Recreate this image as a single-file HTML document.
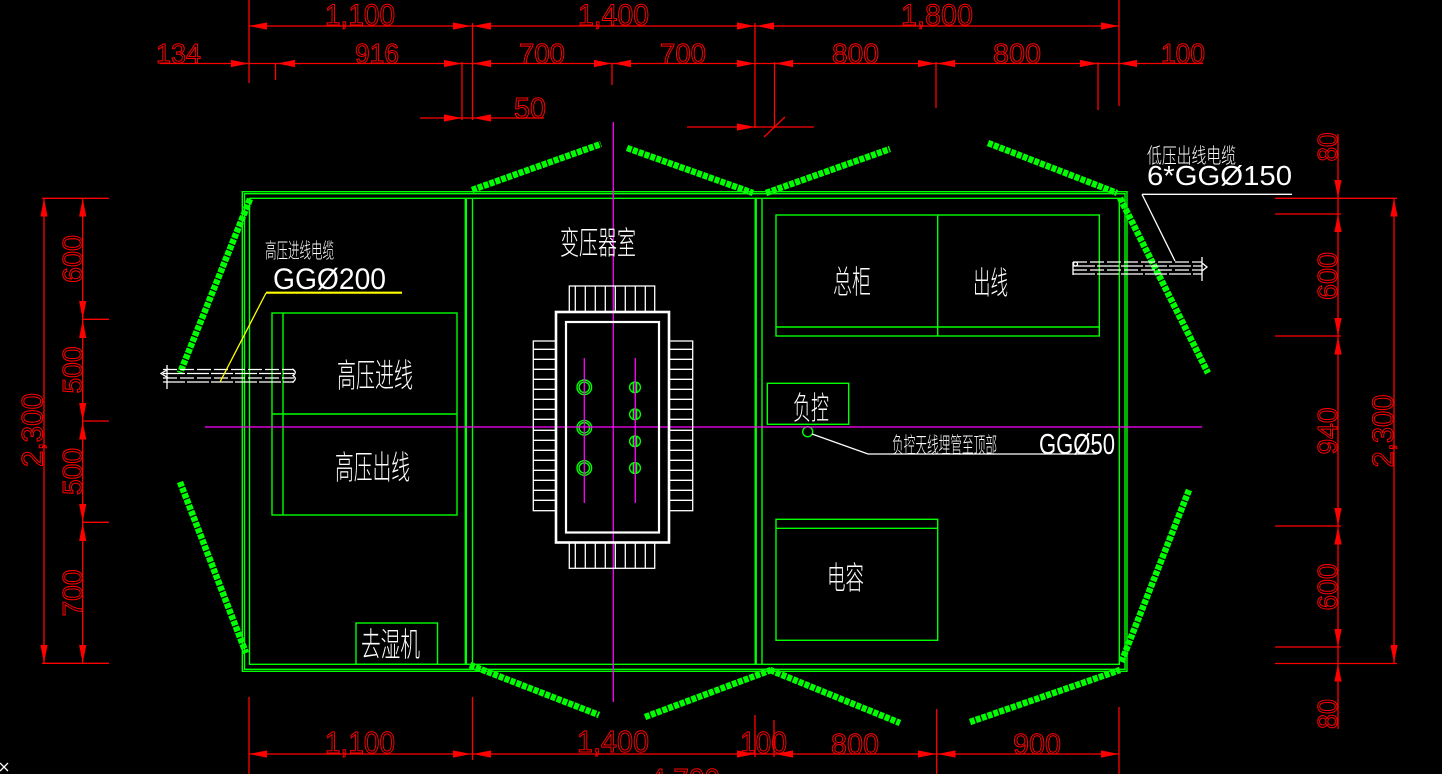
<!DOCTYPE html>
<html>
<head>
<meta charset="utf-8">
<style>
html,body{margin:0;padding:0;background:#000;overflow:hidden;width:1442px;height:774px;}
svg{display:block;}
.r{font-family:"Liberation Sans",sans-serif;fill:none;stroke:#ff0000;stroke-width:1;}
.w{font-family:"Liberation Sans","Noto Sans CJK SC",sans-serif;fill:#ffffff;stroke:none;font-weight:200;}
</style>
</head>
<body>
<svg width="1442" height="774" viewBox="0 0 1442 774" xmlns="http://www.w3.org/2000/svg">
<defs>
<polygon id="aR" points="0,0 -18,-3.6 -18,3.6"/>
<polygon id="aL" points="0,0 18,-3.6 18,3.6"/>
<polygon id="aU" points="0,0 -3.6,18 3.6,18"/>
<polygon id="aD" points="0,0 -3.6,-18 3.6,-18"/>
</defs>
<rect x="0" y="0" width="1442" height="774" fill="#000"/>

<!-- ============ RED DIMENSIONS ============ -->
<g stroke="#ff0000" stroke-width="1.3" fill="none">
<path d="M249,26 H1119 M160,63.5 H1203 M420,118 H544 M687,127 H814 M764,137 L785,117"/>
<path d="M249,0 V83 M275.5,63 V80 M462,62 V120 M472.5,23 V120 M612,63 V85 M755,23 V128 M774.5,62 V128 M936,62 V108 M1098,62 V110 M1119,0 V106"/>
<path d="M44,198 V663 M82.7,198 V663 M42,198.3 H109 M82,319.3 H109 M82,421 H109 M82,522.3 H109 M42,663.3 H109"/>
<path d="M1338,134 V729 M1394,198 V663 M1275,198.3 H1397 M1275,214 H1341 M1275,336 H1341 M1275,526 H1341 M1275,647 H1341 M1275,663.5 H1397"/>
<path d="M249,754 H1119 M249,697 V774 M472.5,697 V760 M755,715 V757 M774,720 V757 M936.7,709 V774 M1119,707 V774"/>
</g>
<g fill="#ff0000">
<use href="#aL" x="249" y="26"/><use href="#aR" x="471" y="26"/><use href="#aL" x="473" y="26"/><use href="#aR" x="755" y="26"/><use href="#aL" x="756" y="26"/><use href="#aR" x="1119" y="26"/>
<use href="#aR" x="249" y="63.5"/><use href="#aL" x="277" y="63.5"/><use href="#aR" x="462" y="63.5"/><use href="#aL" x="473" y="63.5"/><use href="#aR" x="612" y="63.5"/><use href="#aL" x="613" y="63.5"/><use href="#aR" x="755" y="63.5"/><use href="#aL" x="775" y="63.5"/><use href="#aR" x="936" y="63.5"/><use href="#aL" x="937" y="63.5"/><use href="#aR" x="1098" y="63.5"/><use href="#aL" x="1119" y="63.5"/>
<use href="#aR" x="462" y="118"/><use href="#aL" x="473" y="118"/><use href="#aR" x="755" y="127"/>
<use href="#aL" x="249" y="754"/><use href="#aR" x="471" y="754"/><use href="#aL" x="473" y="754"/><use href="#aR" x="755" y="754"/><use href="#aL" x="775" y="754"/><use href="#aR" x="936" y="754"/><use href="#aL" x="937.5" y="754"/><use href="#aR" x="1119" y="754"/>
<use href="#aU" x="82.7" y="198.5"/><use href="#aD" x="82.7" y="319"/><use href="#aU" x="82.7" y="320"/><use href="#aD" x="82.7" y="421"/><use href="#aU" x="82.7" y="421.5"/><use href="#aD" x="82.7" y="522"/><use href="#aU" x="82.7" y="523"/><use href="#aD" x="82.7" y="663"/>
<use href="#aU" x="44" y="198.5"/><use href="#aD" x="44" y="663"/>
<use href="#aD" x="1338" y="198"/><use href="#aU" x="1338" y="214"/><use href="#aD" x="1338" y="336"/><use href="#aU" x="1338" y="336.5"/><use href="#aD" x="1338" y="526"/><use href="#aU" x="1338" y="526.5"/><use href="#aD" x="1338" y="647"/><use href="#aU" x="1338" y="663.5"/>
<use href="#aU" x="1394" y="198.5"/><use href="#aD" x="1394" y="663"/>
</g>

<g class="r">
<text x="325" y="25" font-size="30" textLength="70" lengthAdjust="spacingAndGlyphs">1,100</text>
<text x="578" y="25" font-size="30" textLength="71" lengthAdjust="spacingAndGlyphs">1,400</text>
<text x="901" y="25" font-size="30" textLength="72" lengthAdjust="spacingAndGlyphs">1,800</text>
<text x="156" y="63" font-size="28" textLength="45" lengthAdjust="spacingAndGlyphs">134</text>
<text x="355" y="63" font-size="28" textLength="44" lengthAdjust="spacingAndGlyphs">916</text>
<text x="519" y="63" font-size="28" textLength="46" lengthAdjust="spacingAndGlyphs">700</text>
<text x="660" y="63" font-size="28" textLength="46" lengthAdjust="spacingAndGlyphs">700</text>
<text x="832" y="63" font-size="28" textLength="47" lengthAdjust="spacingAndGlyphs">800</text>
<text x="993" y="63" font-size="28" textLength="48" lengthAdjust="spacingAndGlyphs">800</text>
<text x="1161" y="63" font-size="28" textLength="44" lengthAdjust="spacingAndGlyphs">100</text>
<text x="514" y="118" font-size="29" textLength="32" lengthAdjust="spacingAndGlyphs">50</text>

<text x="325" y="753" font-size="31" textLength="70" lengthAdjust="spacingAndGlyphs">1,100</text>
<text x="577" y="752" font-size="31" textLength="72" lengthAdjust="spacingAndGlyphs">1,400</text>
<text x="740" y="753" font-size="31" textLength="47" lengthAdjust="spacingAndGlyphs">100</text>
<text x="831" y="754" font-size="29" textLength="48" lengthAdjust="spacingAndGlyphs">800</text>
<text x="1013" y="754" font-size="29" textLength="48" lengthAdjust="spacingAndGlyphs">900</text>
<text x="650" y="790" font-size="31" textLength="70" lengthAdjust="spacingAndGlyphs">4,700</text>

<text transform="translate(82,259) rotate(-90)" text-anchor="middle" font-size="28" textLength="48" lengthAdjust="spacingAndGlyphs">600</text>
<text transform="translate(82,370) rotate(-90)" text-anchor="middle" font-size="28" textLength="47" lengthAdjust="spacingAndGlyphs">500</text>
<text transform="translate(82,471.5) rotate(-90)" text-anchor="middle" font-size="28" textLength="47" lengthAdjust="spacingAndGlyphs">500</text>
<text transform="translate(82,593) rotate(-90)" text-anchor="middle" font-size="28" textLength="47" lengthAdjust="spacingAndGlyphs">700</text>
<text transform="translate(42.5,430) rotate(-90)" text-anchor="middle" font-size="30" textLength="74" lengthAdjust="spacingAndGlyphs">2,300</text>

<text transform="translate(1337,147) rotate(-90)" text-anchor="middle" font-size="28" textLength="29" lengthAdjust="spacingAndGlyphs">80</text>
<text transform="translate(1337,276) rotate(-90)" text-anchor="middle" font-size="28" textLength="48" lengthAdjust="spacingAndGlyphs">600</text>
<text transform="translate(1337,431) rotate(-90)" text-anchor="middle" font-size="28" textLength="47" lengthAdjust="spacingAndGlyphs">940</text>
<text transform="translate(1337,587) rotate(-90)" text-anchor="middle" font-size="28" textLength="47" lengthAdjust="spacingAndGlyphs">600</text>
<text transform="translate(1337,714) rotate(-90)" text-anchor="middle" font-size="28" textLength="30" lengthAdjust="spacingAndGlyphs">80</text>
<text transform="translate(1393,431) rotate(-90)" text-anchor="middle" font-size="30" textLength="73" lengthAdjust="spacingAndGlyphs">2,300</text>
</g>

<!-- ============ GREEN WALLS & EQUIPMENT ============ -->
<g stroke="#00ff00" stroke-width="1.4" fill="none">
<rect x="242.3" y="191.7" width="884.7" height="479.6"/>
<rect x="244.5" y="193.7" width="880.5" height="475.6"/>
<path d="M249.5,198.3 H1119.3 V664.3 H249.5 Z"/>
<path d="M472.5,198.3 V664.3 M762,198.3 V664.3"/>
<path d="M465.8,198.3 V664.3 M755.7,198.3 V664.3" stroke-width="2.4"/>
<rect x="272" y="313" width="185" height="202"/>
<path d="M283,313 V515 M272,414 H457"/>
<rect x="356" y="623" width="81.5" height="41.3"/>
<rect x="776" y="215" width="323.3" height="121"/>
<path d="M937.7,215 V336 M776,327 H1099.3"/>
<rect x="767.3" y="383.3" width="81.4" height="41"/>
<rect x="776" y="519.3" width="161.7" height="121"/>
<path d="M776,528.3 H937.7"/>
<circle cx="807.7" cy="431.7" r="5"/>
<circle cx="584.3" cy="387.3" r="7.3"/><circle cx="584.3" cy="387.3" r="5.2"/>
<circle cx="584.3" cy="427.7" r="7.3"/><circle cx="584.3" cy="427.7" r="5.2"/>
<circle cx="584.3" cy="468" r="7.3"/><circle cx="584.3" cy="468" r="5.2"/>
<circle cx="635" cy="387.3" r="5.4"/><circle cx="635" cy="414.3" r="5.4"/><circle cx="635" cy="441.3" r="5.4"/><circle cx="635" cy="468" r="5.4"/>
<path d="M633.4,382 V393 M636.6,382 V393 M633.4,409 V420 M636.6,409 V420 M633.4,436 V447 M636.6,436 V447 M633.4,463 V474 M636.6,463 V474"/>
</g>

<g stroke="#00ff00" stroke-width="6.5" fill="none" stroke-dasharray="5 1.2">
<path d="M250,199 L180,373"/>
<path d="M180,482 L246,653"/>
<path d="M472,190 L601,144"/>
<path d="M627,148 L753,193"/>
<path d="M766,193 L890,149"/>
<path d="M988,143 L1117,193"/>
<path d="M1120,198 L1208,373"/>
<path d="M1189,490 L1121,663"/>
<path d="M470,665 L599,715"/>
<path d="M645,717 L771,670"/>
<path d="M770,670 L900,723"/>
<path d="M970,722 L1120,670"/>
</g>

<g stroke="#ff00ff" stroke-width="1.3" fill="none">
<path d="M613.3,122 V702 M205,427 H1202 M584.3,358 V503 M635.3,358 V503"/>
</g>

<g stroke="#ffffff" stroke-width="1.3" fill="none">
<rect x="569.3" y="286" width="85.4" height="25.7"/>
<path d="M575.3,286 V311.7 M585.3,286 V311.7 M595.3,286 V311.7 M605.3,286 V311.7 M615.3,286 V311.7 M625.3,286 V311.7 M635.3,286 V311.7 M645.3,286 V311.7"/>
<rect x="569.3" y="542.7" width="85.4" height="25.6"/>
<path d="M575.3,542.7 V568.3 M585.3,542.7 V568.3 M595.3,542.7 V568.3 M605.3,542.7 V568.3 M615.3,542.7 V568.3 M625.3,542.7 V568.3 M635.3,542.7 V568.3 M645.3,542.7 V568.3"/>
<rect x="533.3" y="341" width="22.4" height="169.7"/>
<rect x="669.3" y="341" width="23.4" height="169.7"/>
<path d="M533.3,349.3 H555.7 M533.3,359.3 H555.7 M533.3,369.3 H555.7 M533.3,379.3 H555.7 M533.3,389.3 H555.7 M533.3,399.3 H555.7 M533.3,409.3 H555.7 M533.3,419.3 H555.7 M533.3,430.3 H555.7 M533.3,440.3 H555.7 M533.3,450.3 H555.7 M533.3,460.3 H555.7 M533.3,470.3 H555.7 M533.3,480.3 H555.7 M533.3,490.3 H555.7 M533.3,500.3 H555.7"/>
<path d="M669.3,349.3 H692.7 M669.3,359.3 H692.7 M669.3,369.3 H692.7 M669.3,379.3 H692.7 M669.3,389.3 H692.7 M669.3,399.3 H692.7 M669.3,409.3 H692.7 M669.3,419.3 H692.7 M669.3,430.3 H692.7 M669.3,440.3 H692.7 M669.3,450.3 H692.7 M669.3,460.3 H692.7 M669.3,470.3 H692.7 M669.3,480.3 H692.7 M669.3,490.3 H692.7 M669.3,500.3 H692.7"/>
<rect x="556" y="312" width="113" height="230.5" stroke-width="2.6"/>
<rect x="566" y="322" width="93" height="210.5" stroke-width="2.2"/>

<path d="M163,369.5 H294 M163,378 H294" stroke-dasharray="14 3"/>
<path d="M163,373.5 H294 M163,382 H294" stroke-dasharray="22 2"/>
<path d="M167,365 V389 M168.5,369 L161,373.5 L168.5,378 M292,369 Q298,372 293,375.5 Q298,379 292,382.5"/>
<path d="M1073,262 H1202 M1073,270 H1202" stroke-dasharray="14 3"/>
<path d="M1073,266 H1202 M1073,274 H1202" stroke-dasharray="22 2"/>
<path d="M1073,262 V275 M1202,257 V281 M1202,263 L1207,267 L1202,271"/>
<circle cx="1075.5" cy="264" r="2"/>
<path d="M1142,194.3 H1292 M1142,194.3 L1175,261"/>
<path d="M812,434 L868,454 H1097"/>
<path d="M0,763 L8,771 M0,771 L8,763"/>
</g>
<g stroke="#ffff00" fill="none">
<path d="M402,292.7 H266" stroke-width="2.2"/>
<path d="M266,293 L220,382" stroke-width="1.3"/>
</g>

<g class="w">
<text x="560" y="254" font-size="32" textLength="76" lengthAdjust="spacingAndGlyphs">变压器室</text>
<text x="265" y="258" font-size="21" textLength="69" lengthAdjust="spacingAndGlyphs">高压进线电缆</text>
<text x="273" y="289" font-size="30" textLength="113" lengthAdjust="spacingAndGlyphs">GGØ200</text>
<text x="337" y="387" font-size="33" textLength="76" lengthAdjust="spacingAndGlyphs">高压进线</text>
<text x="335" y="479" font-size="33" textLength="75" lengthAdjust="spacingAndGlyphs">高压出线</text>
<text x="361" y="656" font-size="33" textLength="59" lengthAdjust="spacingAndGlyphs">去湿机</text>
<text x="833" y="293" font-size="32" textLength="38" lengthAdjust="spacingAndGlyphs">总柜</text>
<text x="973" y="294" font-size="32" textLength="35" lengthAdjust="spacingAndGlyphs">出线</text>
<text x="793" y="419" font-size="32" textLength="36" lengthAdjust="spacingAndGlyphs">负控</text>
<text x="892" y="453" font-size="22" textLength="105" lengthAdjust="spacingAndGlyphs">负控天线埋管至顶部</text>
<text x="1039" y="454" font-size="29" textLength="76" lengthAdjust="spacingAndGlyphs">GGØ50</text>
<text x="827" y="589" font-size="32" textLength="37" lengthAdjust="spacingAndGlyphs">电容</text>
<text x="1147" y="163" font-size="21" textLength="89" lengthAdjust="spacingAndGlyphs">低压出线电缆</text>
<text x="1147" y="185" font-size="28" textLength="145" lengthAdjust="spacingAndGlyphs">6*GGØ150</text>
</g>
</svg>
</body>
</html>
